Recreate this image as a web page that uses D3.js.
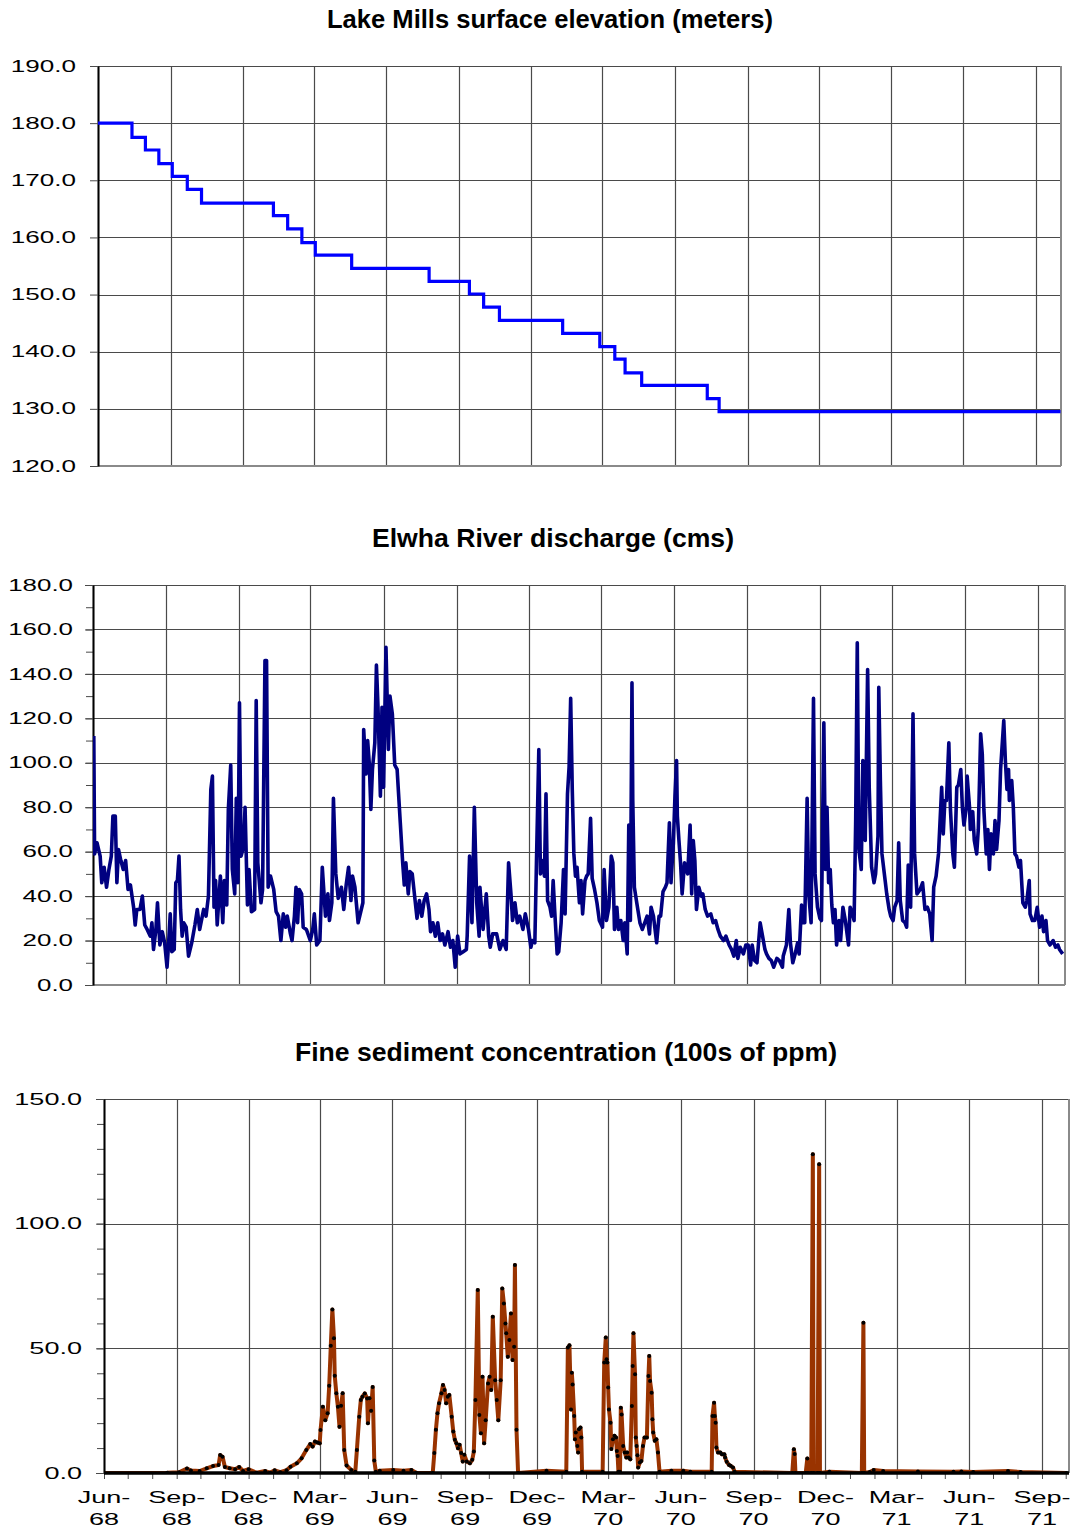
<!DOCTYPE html>
<html><head><meta charset="utf-8">
<script src="https://cdn.jsdelivr.net/npm/d3@7"></script>
<style>
body{margin:0;background:#fff}
svg{display:block}
text{font-family:"Liberation Sans",Arial,Helvetica,sans-serif;fill:#000}
</style>
</head><body>
<svg id="c" width="1073" height="1529"></svg>
<script>
// ---------------- DATA (days counted from 1 June 1968) ----------------
const titles = ["Lake Mills surface elevation (meters)", "Elwha River discharge (cms)", "Fine sediment concentration (100s of ppm)"];
const xTickLabels = ["Jun-68","Sep-68","Dec-68","Mar-69","Jun-69","Sep-69","Dec-69","Mar-70","Jun-70","Sep-70","Dec-70","Mar-71","Jun-71","Sep-71"];
const elevTicks = [120,130,140,150,160,170,180,190];
const flowTicks = [0,20,40,60,80,100,120,140,160,180];
const flowMinorTicks = [0,10,20,30,40,50,60,70,80,90,100,110,120,130,140,150,160,170,180];
const sedTicks = [0,50,100,150];
const sedMinorTicks = [0,10,20,30,40,50,60,70,80,90,100,110,120,130,140,150];

const elevDay   = [0,43,60,77,94,113,131,222,240,258,275,321,419,470,488,508,588,635,654,667,688,771,786,1218];
const elevValue = [180.0,177.5,175.3,172.9,170.7,168.4,166.0,163.8,161.5,159.1,156.9,154.6,152.3,150.1,147.8,145.5,143.2,140.9,138.7,136.3,134.1,131.8,129.5,129.5];

const flowDay = [1,2,5,9,11,14,17,20,23,25,28,30,32,35,38,41,44,47,51,53,55,59,62,65,68,72,74,76,79,81,84,87,90,93,95,97,99,102,104,106,108,110,112,114,117,120,124,128,131,134,139,142,145,148,150,152,154,156,160,163,165,168,170,173,175,178,180,182,184,186,189,191,194,196,199,203,205,207,211,213,216,218,220,223,227,230,233,236,239,242,244,248,250,253,255,257,259,262,264,268,273,276,278,281,285,288,292,295,297,300,302,305,308,312,315,318,321,324,326,329,333,
339,340,343,345,347,349,351,354,356,358,361,363,365,368,371,373,376,379,382,386,389,391,393,396,398,401,404,407,410,413,416,419,422,424,427,430,433,436,439,442,446,449,452,455,458,461,465,469,470,473,476,479,482,485,
486,490,494,497,499,502,507,511,515,519,522,525,527,530,533,536,540,543,547,550,552,555,557,560,562,565,567,569,571,574,576,578,580,583,585,588,591,593,596,598,600,602,604,606,608,611,613,615,618,620,622,625,627,630,633,636,640,642,645,648,651,653,655,658,660,663,666,668,671,673,675,677,678,680,683,687,690,693,696,699,701,704,708,711,713,716,719,721,724,726,729,731,733,734,736,738,740,743,745,747,750,752,754,756,758,761,764,766,769,772,776,779,782,785,788,792,795,799,802,805,808,810,813,817,820,823,826,828,831,834,838,841,844,846,849,852,855,859,862,
866,867,871,874,876,879,882,885,887,890,892,894,897,899,902,905,907,910,913,915,918,920,922,924,926,928,930,932,934,937,939,942,945,949,951,954,956,958,960,962,965,967,970,973,975,978,981,983,986,987,989,991,995,997,1000,1002,1005,1007,1010,1012,1014,1017,1020,1022,1024,1027,1030,1032,1035,1039,1042,1045,1048,1051,1054,1056,1059,1062,1064,1066,1068,1070,1072,1075,1077,1080,1082,1085,1087,1090,1092,1094,1097,1098,1101,1102,1105,1107,1110,1112,1115,1117,1119,1122,1124,1126,1128,1131,1133,1135,1138,1140,1144,1146,1148,1150,1151,1154,1156,1158,1160,1163,1165,1168,1171,1173,1176,1177,1180,1183,1186,1189,1192,1194,1197,1199,1202,1206,1209,1212,1214,1218];
const flowValue = [112,59,64,58,46,53,44,52,58,76,76,46,61,56,52,56,43,45,35,27,34,34,40,27,25,22,28,16,25,37,18,24,19,8,19,32,15,16,46,47,58,34,22,28,26,13,19,27,34,25,34,31,40,88,94,35,47,27,49,28,47,36,79,99,52,41,84,46,127,58,62,80,36,52,33,34,128,55,37,43,146,146,44,49,43,33,31,20,32,26,31,23,20,31,44,28,43,41,26,25,20,25,32,18,20,53,31,41,29,37,84,50,39,44,34,45,53,38,49,44,28,
37,115,95,110,100,79,97,109,144,125,85,125,89,152,106,130,122,99,97,73,55,45,55,41,51,50,40,30,38,31,38,41,34,24,28,22,28,20,23,18,24,17,20,8,22,14,15,16,22,58,28,80,37,22,
44,25,41,22,17,23,23,16,20,16,55,41,29,37,28,31,25,32,25,17,20,19,55,106,50,56,49,86,38,35,31,47,33,14,15,28,52,32,86,98,129,88,59,49,53,37,47,32,47,49,50,75,48,43,37,29,26,52,29,35,58,55,25,35,25,29,20,28,14,72,29,136,83,44,37,28,25,28,31,23,35,31,19,31,31,42,44,46,73,46,64,85,101,76,65,55,41,55,52,50,72,41,65,56,34,44,40,41,34,31,32,28,29,25,22,20,22,18,16,13,20,12,17,14,18,18,9,18,11,10,28,22,16,14,12,11,8,12,11,
8,13,18,34,19,10,14,19,14,36,28,28,84,41,28,129,50,35,30,29,118,52,80,46,52,36,28,34,18,29,20,35,29,18,35,32,29,74,154,61,52,101,65,142,89,53,46,50,67,134,92,59,47,41,34,31,29,35,38,64,38,29,28,26,54,35,122,59,41,43,46,34,35,32,20,44,49,59,74,89,68,83,83,109,79,59,53,89,90,97,80,72,80,94,80,70,78,65,59,70,113,104,79,59,70,52,68,59,74,61,74,97,119,101,88,97,83,92,80,59,58,53,56,37,35,38,47,32,29,29,35,26,31,24,29,20,18,20,17,18,16,14];

const sedDay = [0,80,95,105,110,121,130,138,145,147,150,153,159,166,171,176,183,193,204,210,216,223,231,236,244,250,256,261,264,267,270,273,274,277,280,283,285,287,289,291,292,294,296,298,300,302,304,307,313,318,320,323,325,327,330,333,334,336,338,340,342,344,349,366,379,389,395,416,418,420,422,424,427,429,431,433,435,437,440,442,444,446,448,450,452,454,456,459,463,466,468,470,473,475,477,479,481,483,486,488,490,492,495,497,499,502,504,506,508,509,511,513,515,517,519,520,522,524,560,585,587,589,591,592,593,595,596,597,599,600,601,603,604,605,631,633,635,636,637,638,639,641,642,644,646,648,649,650,651,653,654,655,657,659,661,662,664,666,668,669,670,672,673,674,675,676,678,680,682,684,687,689,690,691,693,694,695,697,699,701,703,718,733,742,769,770,772,773,774,775,777,780,782,785,786,788,791,793,796,798,871,873,874,875,888,890,891,895,897,898,903,905,906,918,959,961,962,969,974,986,1030,1075,1085,1100,1144,1160,1218];
const sedValue = [0,0.1,0.3,1.8,1.0,0.8,1.9,2.8,3.2,7.2,6.5,2.4,1.9,1.5,2.4,0.8,1.5,0.1,0.8,0.1,1.1,0.3,1.1,2.5,3.9,5.9,9.2,11.6,10.6,12.6,12.2,11.9,17.2,26.6,21.2,24,35,51,65.6,54,39,32,26.6,18.5,27,32,9.2,3,1.2,0.5,9.2,22.6,29.3,30.6,31.9,29.9,20,30,25,34.5,5,0.5,0.9,1.2,0.9,1.2,0.1,0,8,17.3,24,28,32,35.3,33.3,28,30.6,31.3,22.6,16.6,13.3,11.9,9.9,11.3,8,4.6,7.3,4.6,3.9,5.3,8.6,29.3,73.4,23.3,15.9,38.6,11.9,21.2,35.9,38.6,33.3,62.7,37.2,29.3,21.2,37.2,74,68,60,56,46.6,53.3,64,45.3,50.6,83.4,17.3,0,0.9,0.5,50.3,51.2,25.5,40.2,35.5,22.9,13.5,16.2,10.8,8.2,17.5,18.2,14.2,0.5,0.5,44.3,54.3,45.6,44.3,34.3,25.5,20.2,9.6,13.5,14.9,14.2,8.8,6.8,0.5,0.5,26.2,23.5,10.8,8.2,6.2,8.2,6.2,5.5,26.9,42.9,56,39.6,14.2,10.8,7.1,2.2,4.2,4.8,10.8,14.2,14.2,38.9,46.9,36.9,32.2,21.6,16.2,12.9,13.5,8.2,0.5,0.9,0.9,0.5,0.5,22.9,28.2,22.9,20.2,10.2,8.2,8.2,7.5,7.5,6.2,4.5,3.2,2.9,2.2,0.5,0,9.5,7.6,0,0,5.8,0,0,127.8,0,0,123.8,0,0.5,0,60.3,0,0.4,1.2,0.8,0.6,0.5,0.6,0.4,0.8,0.4,0];

// ---------------- DRAWING ----------------
const svg = d3.select("#c");
const d0 = new Date(Date.UTC(1968,5,1));
const dSep71 = new Date(Date.UTC(1971,8,1));
const toDate = d => new Date(Date.UTC(1968,5,1+d));
const GRID = "#4a4a4a";

const panels = [
  {title:titles[0], tcx:550, tw:446, ty:28, x0:98, xSep:1036, xRight:1061, yTop:66, yBot:466, ymin:120, ymax:190,
   ticks:elevTicks, minor:null, labelRight:76, sx:1.63, fs:16},
  {title:titles[1], tcx:553, tw:362, ty:547, x0:93, xSep:1038, xRight:1065, yTop:585, yBot:985, ymin:0, ymax:180,
   ticks:flowTicks, minor:flowMinorTicks, labelRight:73, sx:1.62, fs:16},
  {title:titles[2], tcx:566, tw:542, ty:1061, x0:104, xSep:1042, xRight:1069, yTop:1099, yBot:1473, ymin:0, ymax:150,
   ticks:sedTicks, minor:sedMinorTicks, labelRight:82, sx:1.66, fs:16.3}
];

function drawPanel(cfg, idx) {
  const x = d3.scaleUtc().domain([d0, dSep71]).range([cfg.x0, cfg.xSep]);
  const y = d3.scaleLinear().domain([cfg.ymin, cfg.ymax]).range([cfg.yBot, cfg.yTop]);
  const xEnd = x.invert(cfg.xRight);
  const g = svg.append("g");

  g.append("text").attr("x", cfg.tcx).attr("y", cfg.ty).attr("text-anchor","middle")
    .attr("font-size", 25).attr("font-weight","bold")
    .attr("textLength", cfg.tw).attr("lengthAdjust","spacingAndGlyphs").text(cfg.title);

  const quarters = d3.utcMonth.range(d0, xEnd, 3);
  g.append("g").selectAll("line").data(quarters).join("line")
    .attr("x1", d => Math.round(x(d))+0.5).attr("x2", d => Math.round(x(d))+0.5)
    .attr("y1", cfg.yTop).attr("y2", cfg.yBot)
    .attr("stroke", GRID).attr("stroke-width", 1.2);
  g.append("g").selectAll("line").data(cfg.ticks).join("line")
    .attr("x1", cfg.x0).attr("x2", cfg.xRight)
    .attr("y1", d => Math.round(y(d))+0.5).attr("y2", d => Math.round(y(d))+0.5)
    .attr("stroke", GRID).attr("stroke-width", 1.2);
  g.append("line").attr("x1", cfg.xRight).attr("x2", cfg.xRight).attr("y1", cfg.yTop).attr("y2", cfg.yBot)
    .attr("stroke", "#8a8a8a").attr("stroke-width", 2);
  if (idx !== 2) {
    g.append("line").attr("x1", cfg.x0).attr("x2", cfg.xRight).attr("y1", cfg.yBot).attr("y2", cfg.yBot)
      .attr("stroke", "#8a8a8a").attr("stroke-width", 2);
  }

  if (cfg.minor) {
    g.append("g").attr("transform", `translate(${cfg.x0},0)`)
      .call(d3.axisLeft(y).tickValues(cfg.minor).tickSize(7).tickSizeOuter(0).tickFormat(""))
      .call(a => a.select(".domain").remove())
      .call(a => a.selectAll("line").attr("stroke", GRID));
  }
  const ya = g.append("g").attr("transform", `translate(${cfg.x0},0)`)
    .call(d3.axisLeft(y).tickValues(cfg.ticks).tickSize(8).tickSizeOuter(0).tickFormat(d3.format(".1f")));
  ya.select(".domain").attr("stroke", "#000").attr("stroke-width", 2);
  ya.selectAll("line").attr("stroke", GRID);
  ya.selectAll("text")
    .attr("font-family", '"Liberation Sans",Arial,sans-serif')
    .attr("font-size", cfg.fs)
    .attr("x", -(cfg.x0 - cfg.labelRight) / cfg.sx)
    .attr("transform", `scale(${cfg.sx},1)`)
    .attr("fill", "#000");

  const cid = "clip" + idx;
  g.append("clipPath").attr("id", cid).append("rect")
    .attr("x", cfg.x0).attr("y", cfg.yTop - 5).attr("width", cfg.xRight - cfg.x0).attr("height", cfg.yBot - cfg.yTop + 5);

  return {x, y, g, cid, xEnd, quarters};
}

// Panel 1 : elevation
{
  const P = drawPanel(panels[0], 0);
  const data = elevDay.map((d,i) => [toDate(d), elevValue[i]]);
  P.g.append("path").datum(data).attr("clip-path", `url(#${P.cid})`)
    .attr("fill","none").attr("stroke","#0000ff").attr("stroke-width",3.2)
    .attr("d", d3.line().x(d => P.x(d[0])).y(d => P.y(d[1])).curve(d3.curveStepAfter));
}
// Panel 2 : discharge
{
  const P = drawPanel(panels[1], 1);
  const data = flowDay.map((d,i) => [toDate(d), flowValue[i]]);
  P.g.append("path").datum(data).attr("clip-path", `url(#${P.cid})`)
    .attr("fill","none").attr("stroke","#000080").attr("stroke-width",3.6).attr("stroke-linejoin","round")
    .attr("d", d3.line().x(d => P.x(d[0])).y(d => P.y(d[1])));
}
// Panel 3 : sediment
{
  const cfg = panels[2];
  const P = drawPanel(cfg, 2);
  const data = sedDay.map((d,i) => [toDate(d), sedValue[i]]);
  P.g.append("g").attr("transform", `translate(0,${cfg.yBot})`)
    .call(d3.axisBottom(P.x).tickValues(d3.utcMonth.range(d0, P.xEnd)).tickSize(6).tickSizeOuter(0).tickFormat(""))
    .call(a => a.select(".domain").remove())
    .call(a => a.selectAll("line").attr("stroke", GRID));
  P.g.append("path").datum(data).attr("clip-path", `url(#${P.cid})`)
    .attr("fill","none").attr("stroke","#993300").attr("stroke-width",4).attr("stroke-linejoin","round")
    .attr("d", d3.line().x(d => P.x(d[0])).y(d => P.y(d[1])));
  // zero baseline (dense zero-value markers appear as a thick black line)
  P.g.append("line").attr("x1", cfg.x0).attr("x2", cfg.xRight).attr("y1", P.y(0)).attr("y2", P.y(0))
    .attr("stroke", "#000").attr("stroke-width", 3.5);
  P.g.append("g").attr("clip-path", `url(#${P.cid})`).selectAll("circle").data(data).join("circle")
    .attr("cx", d => P.x(d[0])).attr("cy", d => P.y(d[1])).attr("r", 2).attr("fill", "#000");
  const lab = P.g.append("g");
  P.quarters.forEach((q, i) => {
    const parts = xTickLabels[i].split("-");
    const t = lab.append("text").attr("text-anchor","middle").attr("font-size", cfg.fs)
      .attr("transform", `translate(${P.x(q)},0) scale(${cfg.sx},1)`);
    t.append("tspan").attr("x", 0).attr("y", 1503).text(parts[0] + "-");
    t.append("tspan").attr("x", 0).attr("y", 1525).text(parts[1]);
  });
}
</script>
</body></html>
